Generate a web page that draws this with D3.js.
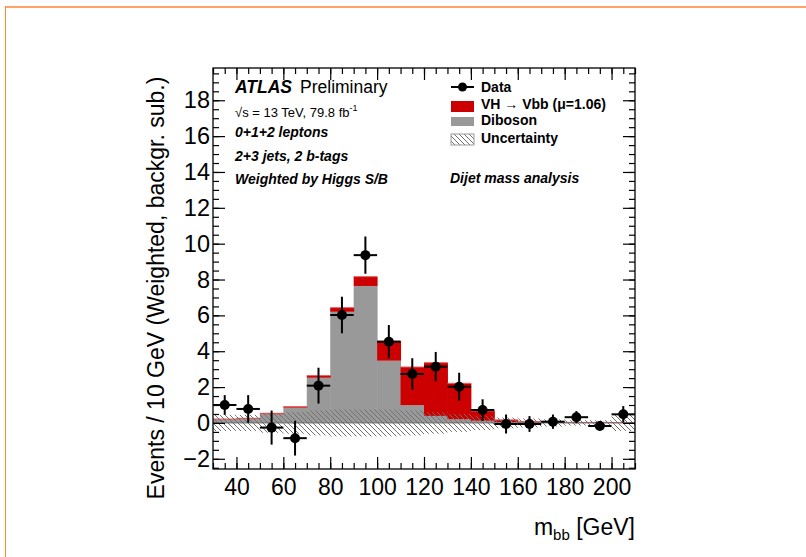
<!DOCTYPE html>
<html>
<head>
<meta charset="utf-8">
<script src="https://cdn.jsdelivr.net/npm/d3@7"></script>
<style>
  html, body { margin: 0; padding: 0; background: #fff; }
  svg { display: block; font-family: "Liberation Sans", Arial, Helvetica, sans-serif; }
</style>
</head>
<body>
<svg id="chart" width="806" height="557"></svg>
<script>
// ---------------- data ----------------
const binCenters = [35, 45, 55, 65, 75, 85, 95, 105, 115, 125, 135, 145, 155, 165, 175, 185, 195, 205];
const binWidth = 10;
const diboson = [0.20, 0.22, 0.48, 0.85, 2.52, 6.20, 7.64, 3.47, 0.99, 0.39, 0.20, 0.12, 0.05, 0.03, 0.02, 0.01, 0.01, 0.01];
const vhSignal = [0.02, 0.04, 0.06, 0.06, 0.12, 0.23, 0.52, 1.10, 2.13, 2.97, 2.01, 0.55, 0.12, 0.05, 0.03, 0.02, 0.02, 0.01];
const dataValues = [1.00, 0.78, -0.26, -0.85, 2.08, 6.02, 9.36, 4.53, 2.73, 3.14, 2.02, 0.72, -0.06, -0.06, 0.07, 0.32, -0.17, 0.48];
const dataErrors = [0.55, 0.77, 0.95, 0.97, 1.00, 1.02, 1.04, 0.93, 0.88, 0.82, 0.78, 0.60, 0.53, 0.44, 0.40, 0.34, 0.25, 0.46];
const uncertainty = [0.45, 0.45, 0.55, 0.60, 0.70, 0.75, 0.75, 0.75, 0.70, 0.60, 0.50, 0.40, 0.30, 0.25, 0.20, 0.15, 0.15, 0.45];
const xTicks = [40, 60, 80, 100, 120, 140, 160, 180, 200];
const yTicks = [-2, 0, 2, 4, 6, 8, 10, 12, 14, 16, 18];

const legendLabels = ["Data", "VH  \u2192 Vbb (\u03bc=1.06)", "Diboson", "Uncertainty"];

// ---------------- layout ----------------
const svg = d3.select("#chart");
const W = 806, H = 557;
const frame = { left: 213, right: 635, top: 68, bottom: 469 };

const x = d3.scaleLinear().domain([30, 210]).range([frame.left, frame.right]);
const y = d3.scaleLinear().domain([-2.57, 19.8]).range([frame.bottom, frame.top]);

const RED = "#cc0000", GRAY = "#999999";

// orange page border
svg.append("line").attr("x1", 5).attr("x2", W).attr("y1", 7).attr("y2", 7)
  .attr("stroke", "#ff8533").attr("stroke-width", 1.5);
svg.append("line").attr("x1", 5.5).attr("x2", 5.5).attr("y1", 6.5).attr("y2", H)
  .attr("stroke", "#ff8533").attr("stroke-width", 1);

// hatch pattern
const defs = svg.append("defs");
const pat = defs.append("pattern").attr("id", "hatch")
  .attr("patternUnits", "userSpaceOnUse").attr("width", 5).attr("height", 5);
pat.append("path").attr("d", "M-1,-1 L6,6 M-1,4 L1,6 M4,-1 L6,1")
  .attr("stroke", "#707070").attr("stroke-width", 1).attr("fill", "none");

defs.append("clipPath").attr("id", "plotclip").append("rect")
  .attr("x", frame.left).attr("y", frame.top)
  .attr("width", frame.right - frame.left).attr("height", frame.bottom - frame.top);

const plot = svg.append("g").attr("clip-path", "url(#plotclip)");

const bins = binCenters.map((c, i) => ({
  c, lo: c - binWidth / 2, hi: c + binWidth / 2,
  dib: diboson[i], vh: vhSignal[i], d: dataValues[i], e: dataErrors[i], u: uncertainty[i]
}));

// diboson bars
plot.selectAll("rect.dib").data(bins).enter().append("rect")
  .attr("x", b => x(b.lo)).attr("width", b => x(b.hi) - x(b.lo) + 0.5)
  .attr("y", b => y(b.dib)).attr("height", b => y(0) - y(b.dib))
  .attr("fill", GRAY);

// VH bars stacked
plot.selectAll("rect.vh").data(bins).enter().append("rect")
  .attr("x", b => x(b.lo)).attr("width", b => x(b.hi) - x(b.lo) + 0.5)
  .attr("y", b => y(b.dib + b.vh)).attr("height", b => y(b.dib) - y(b.dib + b.vh))
  .attr("fill", RED);

// top outline of stack (thin light edge)
plot.selectAll("line.top").data(bins).enter().append("line")
  .attr("x1", b => x(b.lo)).attr("x2", b => x(b.hi))
  .attr("y1", b => y(b.dib + b.vh)).attr("y2", b => y(b.dib + b.vh))
  .attr("stroke", "#e06060").attr("stroke-width", 1);

// uncertainty band
plot.selectAll("rect.unc").data(bins).enter().append("rect")
  .attr("x", b => x(b.lo)).attr("width", b => x(b.hi) - x(b.lo))
  .attr("y", b => y(b.u)).attr("height", b => y(-b.u) - y(b.u))
  .attr("fill", "url(#hatch)");

// zero line
plot.append("line").attr("x1", frame.left).attr("x2", frame.right)
  .attr("y1", y(0)).attr("y2", y(0)).attr("stroke", "#6a6a6a").attr("stroke-width", 1);

// data
const dg = plot.append("g");
dg.selectAll("line.h").data(bins).enter().append("line")
  .attr("x1", b => x(b.lo)).attr("x2", b => x(b.hi))
  .attr("y1", b => y(b.d)).attr("y2", b => y(b.d))
  .attr("stroke", "#000").attr("stroke-width", 2);
dg.selectAll("line.v").data(bins).enter().append("line")
  .attr("x1", b => x(b.c)).attr("x2", b => x(b.c))
  .attr("y1", b => y(b.d + b.e)).attr("y2", b => y(b.d - b.e))
  .attr("stroke", "#000").attr("stroke-width", 2);
dg.selectAll("circle").data(bins).enter().append("circle")
  .attr("cx", b => x(b.c)).attr("cy", b => y(b.d)).attr("r", 5).attr("fill", "#000");

// ---------------- axes ----------------
function styleAxis(g) {
  g.select(".domain").remove();
  g.selectAll(".tick line").attr("stroke", "#000").attr("stroke-width", 1.2);
}
const minorX = d3.range(30, 211, 5);
const minorY = d3.range(-2.5, 19.8, 0.5);

// bottom
svg.append("g").attr("transform", `translate(0,${frame.bottom})`)
  .call(d3.axisBottom(x).tickValues(minorX).tickSize(-6).tickFormat(""))
  .call(styleAxis);
const xb = svg.append("g").attr("transform", `translate(0,${frame.bottom})`)
  .call(d3.axisBottom(x).tickValues(xTicks).tickSize(-12).tickPadding(8).tickFormat(d3.format("d")))
  .call(styleAxis);
xb.selectAll("text").attr("font-size", 23).attr("fill", "#000")
  .attr("y", 10).attr("dy", "0.71em");
// top
svg.append("g").attr("transform", `translate(0,${frame.top})`)
  .call(d3.axisTop(x).tickValues(minorX).tickSize(-6).tickFormat("")).call(styleAxis);
svg.append("g").attr("transform", `translate(0,${frame.top})`)
  .call(d3.axisTop(x).tickValues(xTicks).tickSize(-12).tickFormat("")).call(styleAxis);
// left
svg.append("g").attr("transform", `translate(${frame.left},0)`)
  .call(d3.axisLeft(y).tickValues(minorY).tickSize(-6).tickFormat("")).call(styleAxis);
const yl = svg.append("g").attr("transform", `translate(${frame.left},0)`)
  .call(d3.axisLeft(y).tickValues(yTicks).tickSize(-12).tickPadding(3)
    .tickFormat(d => d < 0 ? "\u2212" + Math.abs(d) : d))
  .call(styleAxis);
yl.selectAll("text").attr("font-size", 23.5).attr("fill", "#000").attr("x", -3);
// right
svg.append("g").attr("transform", `translate(${frame.right},0)`)
  .call(d3.axisRight(y).tickValues(minorY).tickSize(-6).tickFormat("")).call(styleAxis);
svg.append("g").attr("transform", `translate(${frame.right},0)`)
  .call(d3.axisRight(y).tickValues(yTicks).tickSize(-12).tickFormat("")).call(styleAxis);

// frame
svg.append("rect").attr("x", frame.left).attr("y", frame.top)
  .attr("width", frame.right - frame.left).attr("height", frame.bottom - frame.top)
  .attr("fill", "none").attr("stroke", "#000").attr("stroke-width", 1.3);

// axis titles
const xt = svg.append("text").attr("x", frame.right).attr("y", 535)
  .attr("text-anchor", "end").attr("font-size", 23).attr("fill", "#000");
xt.append("tspan").text("m");
xt.append("tspan").attr("font-size", 15).attr("dy", 5).text("bb");
xt.append("tspan").attr("dy", -5).text(" [GeV]");

svg.append("text")
  .attr("transform", `translate(164,${(68 + 508) / 2}) rotate(-90)`)
  .attr("text-anchor", "middle").attr("font-size", 23).attr("fill", "#000")
  .text("Events / 10 GeV (Weighted, backgr. sub.)");

// ---------------- labels ----------------
const lab = svg.append("g").attr("fill", "#000");
const t1 = lab.append("text").attr("x", 235).attr("y", 93).attr("font-size", 17.5);
t1.append("tspan").attr("font-weight", "bold").attr("font-style", "italic").text("ATLAS");
t1.append("tspan").attr("dx", 8).text("Preliminary");

const t2 = lab.append("text").attr("x", 235).attr("y", 117).attr("font-size", 13);
t2.append("tspan").text("\u221As = 13 TeV, 79.8 fb");
t2.append("tspan").attr("font-size", 9).attr("dy", -6).text("-1");

const infoLines = ["0+1+2 leptons", "2+3 jets, 2 b-tags", "Weighted by Higgs S/B"];
const infoY = [137, 161, 184];
infoLines.forEach((s, i) => {
  lab.append("text").attr("x", 235).attr("y", infoY[i]).attr("font-size", 14)
    .attr("font-weight", "bold").attr("font-style", "italic").text(s);
});
lab.append("text").attr("x", 450).attr("y", 183).attr("font-size", 14)
  .attr("font-weight", "bold").attr("font-style", "italic").text("Dijet mass analysis");

// legend
const lx = 451, lw = 23, tx = 481;
const legY = [91.5, 108.5, 125, 142.5];
const lg = svg.append("g");
lg.append("line").attr("x1", lx).attr("x2", lx + lw).attr("y1", 87).attr("y2", 87)
  .attr("stroke", "#000").attr("stroke-width", 2);
lg.append("circle").attr("cx", lx + lw / 2).attr("cy", 87).attr("r", 4.5).attr("fill", "#000");
lg.append("rect").attr("x", lx).attr("y", 101).attr("width", lw).attr("height", 11).attr("fill", RED);
lg.append("rect").attr("x", lx).attr("y", 117).attr("width", lw).attr("height", 9).attr("fill", GRAY);
lg.append("rect").attr("x", lx).attr("y", 134).attr("width", lw).attr("height", 11)
  .attr("fill", "url(#hatch)").attr("stroke", "#999").attr("stroke-width", 1);
legendLabels.forEach((s, i) => {
  lg.append("text").attr("x", tx).attr("y", legY[i]).attr("font-size", 14)
    .attr("font-weight", "bold").attr("fill", "#000").text(s);
});
</script>
</body>
</html>
